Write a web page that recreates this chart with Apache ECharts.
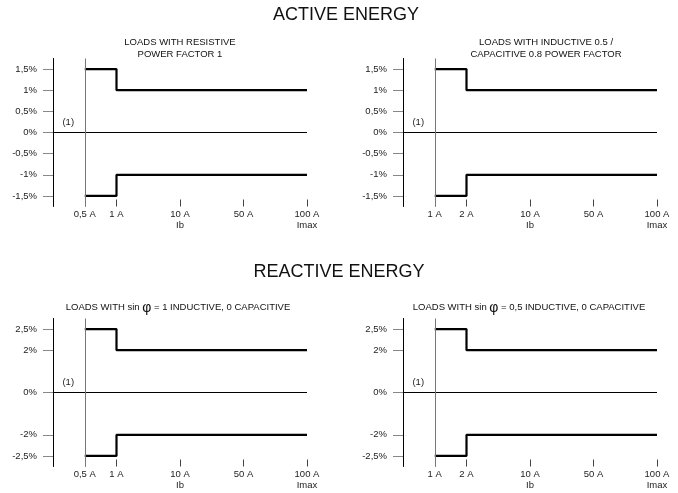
<!DOCTYPE html>
<html>
<head>
<meta charset="utf-8">
<script src="https://cdn.jsdelivr.net/npm/echarts@6/dist/echarts.min.js"></script>
<style>
html,body{margin:0;padding:0;background:#fff;}
#c{width:678px;height:493px;}
</style>
</head>
<body>
<div id="c"></div>
<script>
// ---- data ----
const xTickPos = [0.5, 1, 2, 3, 4];               // schematic positions of the current ticks
const xLabelsLow = ['0,5 A', '1 A', '10 A\nIb', '50 A', '100 A\nImax'];
const xLabelsHigh = ['1 A', '2 A', '10 A\nIb', '50 A', '100 A\nImax'];
const stepIdx = [0, 1, 1, 4];                      // tick index of each step vertex

const activeTicks = [-1.5, -1, -0.5, 0, 0.5, 1, 1.5];
const reactiveTicks = [-2.5, -2, -1, 0, 1, 2, 2.5];
const reactiveHidden = [-1, 1];

const activeUpper = [1.5, 1.5, 1, 1];
const activeLower = [-1.5, -1.5, -1, -1];
const reactiveUpper = [2.5, 2.5, 2, 2];
const reactiveLower = [-2.5, -2.5, -2, -2];

const mainTitles = ['ACTIVE ENERGY', 'REACTIVE ENERGY'];
const subTitles = [
  'LOADS WITH RESISTIVE\nPOWER FACTOR 1',
  'LOADS WITH INDUCTIVE 0.5 /\nCAPACITIVE 0.8 POWER FACTOR',
  'LOADS WITH sin {p|φ} = 1 INDUCTIVE, 0 CAPACITIVE',
  'LOADS WITH sin {p|φ} = 0,5 INDUCTIVE, 0 CAPACITIVE'
];
const noteLabel = '(1)';

// ---- helpers ----
const FONT = 'Liberation Sans, Arial, sans-serif';
const pct = v => String(v).replace('.', ',') + '%';

const panels = [
  {grid: {left: 53, top: 58.5, width: 254, height: 148}, xl: xLabelsLow, ticks: activeTicks, hidden: [], up: activeUpper, lo: activeLower},
  {grid: {left: 403, top: 58.5, width: 254, height: 148}, xl: xLabelsHigh, ticks: activeTicks, hidden: [], up: activeUpper, lo: activeLower},
  {grid: {left: 53, top: 318.5, width: 254, height: 148}, xl: xLabelsLow, ticks: reactiveTicks, hidden: reactiveHidden, up: reactiveUpper, lo: reactiveLower},
  {grid: {left: 403, top: 318.5, width: 254, height: 148}, xl: xLabelsHigh, ticks: reactiveTicks, hidden: reactiveHidden, up: reactiveUpper, lo: reactiveLower}
];

const grids = [], xAxes = [], yAxes = [], series = [];
panels.forEach((p, i) => {
  grids.push(p.grid);
  const cats = p.ticks.map(pct);
  const hiddenIdx = p.hidden.map(v => p.ticks.indexOf(v));
  xAxes.push({
    type: 'value', gridIndex: i, min: 0, max: 4,
    axisLine: {show: false},
    splitLine: {show: false},
    axisTick: {show: true, inside: true, length: 7, customValues: xTickPos, lineStyle: {color: '#444', width: 1}},
    axisLabel: {
      customValues: xTickPos, margin: 3,
      formatter: v => p.xl[xTickPos.indexOf(v)] || '',
      fontFamily: FONT, fontSize: 9.5, color: '#222', lineHeight: 10.5
    }
  });
  yAxes.push({
    type: 'category', gridIndex: i, data: cats, boundaryGap: true,
    axisLine: {show: true, lineStyle: {color: '#000', width: 1}},
    axisTick: {show: true, alignWithLabel: true, length: 10,
      interval: idx => hiddenIdx.indexOf(idx) < 0,
      lineStyle: {color: '#888', width: 1}},
    axisLabel: {interval: idx => hiddenIdx.indexOf(idx) < 0, margin: 16,
      fontFamily: FONT, fontSize: 9.5, color: '#222'},
    splitLine: {show: false}
  });
  const lineBase = {type: 'line', xAxisIndex: i, yAxisIndex: i, symbol: 'none', silent: true, animation: false};
  series.push(Object.assign({}, lineBase, {
    data: [[0, pct(0)], [4, pct(0)]],
    lineStyle: {color: '#000', width: 1},
    markLine: {silent: true, symbol: ['none', 'none'], label: {show: false},
      lineStyle: {color: '#777', width: 1, type: 'solid'},
      data: [{xAxis: xTickPos[0]}], animation: false},
    markPoint: {symbol: 'circle', symbolSize: 0, silent: true, animation: false,
      label: {show: true, formatter: noteLabel, offset: [0, -10], fontFamily: FONT, fontSize: 9.5, color: '#222'},
      data: [{coord: [0.24, pct(0)]}]}
  }));
  series.push(Object.assign({}, lineBase, {
    data: stepIdx.map((k, j) => [xTickPos[k], pct(p.up[j])]),
    lineStyle: {color: '#000', width: 2.2}
  }));
  series.push(Object.assign({}, lineBase, {
    data: stepIdx.map((k, j) => [xTickPos[k], pct(p.lo[j])]),
    lineStyle: {color: '#000', width: 2.2}
  }));
});

const titleStyle = {fontFamily: FONT, fontWeight: 'normal', color: '#111'};
const subStyle = {fontFamily: FONT, fontWeight: 'normal', fontSize: 9.5, lineHeight: 11.6, color: '#111',
  rich: {p: {fontFamily: FONT, fontSize: 14, color: '#111'}}};
const titles = [
  {text: mainTitles[0], left: 346, top: 6, textAlign: 'center', textStyle: Object.assign({fontSize: 18}, titleStyle)},
  {text: mainTitles[1], left: 339, top: 263, textAlign: 'center', textStyle: Object.assign({fontSize: 18}, titleStyle)},
  {text: subTitles[0], left: 180, top: 37, textAlign: 'center', textStyle: subStyle},
  {text: subTitles[1], left: 546, top: 37, textAlign: 'center', textStyle: subStyle},
  {text: subTitles[2], left: 178, top: 302, textAlign: 'center', textStyle: subStyle},
  {text: subTitles[3], left: 529, top: 302, textAlign: 'center', textStyle: subStyle}
].map(t => Object.assign({padding: 0, itemGap: 0}, t));

const chart = echarts.init(document.getElementById('c'), null, {renderer: 'canvas'});
chart.setOption({
  backgroundColor: '#fff',
  animation: false,
  title: titles,
  grid: grids,
  xAxis: xAxes,
  yAxis: yAxes,
  series: series
});
</script>
</body>
</html>
